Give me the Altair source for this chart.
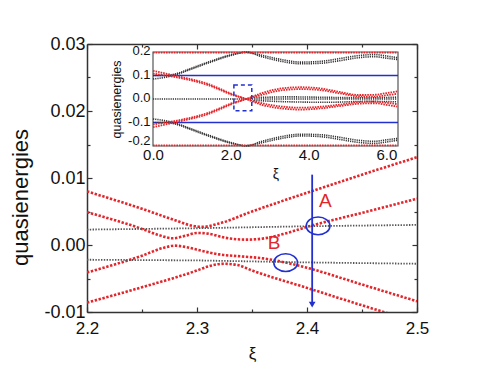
import altair as alt
import pandas as pd

# ---------------- main panel data ----------------
R1_x = [2.20, 2.25, 2.28, 2.295, 2.305, 2.32, 2.35, 2.40, 2.45, 2.50]
R1_y = [0.0080, 0.0054, 0.0037, 0.0029, 0.0027, 0.0032, 0.0050, 0.0078, 0.0105, 0.0131]

R2_x = [2.20, 2.25, 2.265, 2.278, 2.29, 2.30, 2.31, 2.325, 2.345, 2.365, 2.38, 2.40, 2.45, 2.50]
R2_y = [0.0049, 0.0024, 0.0015, 0.0010, 0.0014, 0.0018, 0.0017, 0.0011, 0.0008, 0.0011, 0.0017, 0.0027, 0.0048, 0.0069]

R3_x = [2.20, 2.25, 2.27, 2.28, 2.29, 2.30, 2.32, 2.34, 2.36, 2.38, 2.40, 2.45, 2.50]
R3_y = [-0.0041, -0.0016, -0.0004, -0.0001, -0.0003, -0.0007, -0.0014, -0.0017, -0.0020, -0.0026, -0.0034, -0.0059, -0.0084]

R4_x = [2.20, 2.25, 2.30, 2.31, 2.325, 2.337, 2.35, 2.40, 2.45, 2.50]
R4_y = [-0.0086, -0.0063, -0.0038, -0.0032, -0.0028, -0.0030, -0.0038, -0.0064, -0.0090, -0.0115]

BU_x = [2.20, 2.30, 2.40, 2.50]
BU_y = [0.0023, 0.0025, 0.0028, 0.0030]
BL_x = [2.20, 2.30, 2.40, 2.50]
BL_y = [-0.0022, -0.0023, -0.0026, -0.0028]

ARROW_x = [2.4047]
ARROW_y = [0.0105]
ARROW_y2 = [-0.0090]
ARROWHEAD_y = [-0.0089]

ELL_x = [2.4101, 2.3806]
ELL_y = [0.00285, -0.00264]
LAB_text = ["A", "B"]
LAB_x = [2.4166, 2.3700]
LAB_y = [0.0066, 0.0003]

X_MAJOR = [2.2, 2.3, 2.4, 2.5]
X_MINOR = [2.25, 2.35, 2.45]
Y_MAJOR = [-0.01, 0.0, 0.01, 0.02, 0.03]
Y_MINOR = [-0.005, 0.005, 0.015, 0.025]

# ---------------- inset data ----------------
IX = [0, 0.55, 1.4, 2.1, 2.4, 2.8, 3.3, 3.8, 4.3, 4.8, 5.3, 5.7, 6.0, 6.28]
IRD1 = [0.12, 0.1, 0.065, 0.017, 0.0, -0.025, -0.04, -0.045, -0.04, -0.03, -0.02, -0.018, -0.025, -0.032]
IRD2 = [0.108, 0.094, 0.06, 0.014, 0.0, -0.018, -0.032, -0.037, -0.033, -0.024, -0.013, -0.011, -0.016, -0.022]
IRU1 = [-0.12, -0.1, -0.065, -0.017, 0.0, 0.025, 0.045, 0.05, 0.045, 0.03, 0.017, 0.018, 0.025, 0.032]
IRU2 = [-0.108, -0.094, -0.06, -0.014, 0.0, 0.018, 0.037, 0.042, 0.038, 0.024, 0.011, 0.010, 0.016, 0.022]
IEDGE_x = [0.0, 6.28]
IEDGE_top = [0.197, 0.197]
IEDGE_bot = [-0.197, -0.197]

IBX = [0, 0.3, 0.6, 1.0, 1.5, 2.0, 2.4, 2.8, 3.3, 3.8, 4.3, 4.8, 5.3, 5.7, 6.0, 6.28]
IBU1 = [0.085, 0.092, 0.104, 0.128, 0.158, 0.185, 0.199, 0.186, 0.168, 0.157, 0.160, 0.172, 0.185, 0.189, 0.183, 0.176]
IBU2 = [0.100, 0.100, 0.108, 0.132, 0.162, 0.188, 0.199, 0.180, 0.160, 0.150, 0.152, 0.163, 0.176, 0.180, 0.174, 0.168]
IBL1 = [-0.085, -0.092, -0.104, -0.128, -0.158, -0.185, -0.199, -0.186, -0.168, -0.157, -0.160, -0.172, -0.185, -0.189, -0.183, -0.176]
IBL2 = [-0.100, -0.100, -0.108, -0.132, -0.162, -0.188, -0.199, -0.180, -0.160, -0.150, -0.152, -0.163, -0.176, -0.180, -0.174, -0.168]
IBM_x = [0.0, 6.28]
IBM_y = [0.0, 0.0]
IBM2_x = [2.6, 3.5, 4.5, 5.5, 6.28]
IBM2_y = [0.006, 0.009, 0.007, 0.005, 0.008]
IBM3_y = [-0.006, -0.012, -0.014, -0.010, -0.012]

IBLUE_y = [0.1, -0.1]
IBLUE_x = [0.0]
IBLUE_x2 = [6.3]
IBOX_x = [2.08]
IBOX_x2 = [2.54]
IBOX_y = [-0.05]
IBOX_y2 = [0.06]
IFRAME_x = [0.0]
IFRAME_x2 = [6.3]
IFRAME_y = [-0.2]
IFRAME_y2 = [0.2]
IX_TICKS = [0.0, 2.0, 4.0, 6.0]
IY_TICKS = [-0.2, -0.1, 0.0, 0.1, 0.2]


def curves(items):
    rows = []
    for name, xs, ys in items:
        for x, y in zip(xs, ys):
            rows.append({"curve": name, "x": x, "y": y})
    return pd.DataFrame(rows)


W, H = 330, 268
FONT = "Liberation Sans"
RED = "#e3262b"
BLUE = "#2230d0"
DARK = "#333333"

XS = alt.Scale(domain=[2.2, 2.5], zero=False, nice=False)
YS = alt.Scale(domain=[-0.01, 0.03], zero=False, nice=False)

# inset position inside the plot area (pixel ranges)
IXS = alt.Scale(domain=[0, 6.3], range=[66, 311], zero=False, nice=False)
IYS = alt.Scale(domain=[-0.2, 0.2], range=[102, 8], zero=False, nice=False)


def tick_axis(orient, values, size, offset, domain=False):
    return alt.Axis(orient=orient, values=values, tickSize=size, offset=offset,
                    labels=False, title=None, domain=domain, ticks=True, grid=False,
                    tickColor=DARK, tickWidth=1.2, domainColor=DARK, domainWidth=1.5)


def signed(fmt):
    return f"datum.value < 0 ? '-' + format(-datum.value, '{fmt}') : format(datum.value, '{fmt}')"


x_label_axis = alt.Axis(orient="bottom", values=X_MAJOR, labelExpr=signed(".1f"),
                        labelFont=FONT, labelFontSize=17, labelColor="#111", labelPadding=8,
                        labelFlush=False, labelOverlap=False, tickSize=0,
                        ticks=False, domain=False, grid=False,
                        title="ξ", titleFont=FONT, titleFontSize=17, titleFontWeight="normal",
                        titleColor="#111", titlePadding=9)
y_label_axis = alt.Axis(orient="left", values=Y_MAJOR, labelExpr=signed(".2f"),
                        labelFont=FONT, labelFontSize=18, labelColor="#111", labelPadding=2,
                        labelFlush=False, labelOverlap=False, tickSize=0,
                        ticks=False, domain=False, grid=False,
                        title="quasienergies", titleFont=FONT, titleFontSize=22,
                        titleFontWeight="normal", titleColor="#111", titlePadding=11,
                        titleY=153)

red_df = curves([("R1", R1_x, R1_y), ("R2", R2_x, R2_y), ("R3", R3_x, R3_y), ("R4", R4_x, R4_y)])
black_df = curves([("BU", BU_x, BU_y), ("BL", BL_x, BL_y)])

red_main = alt.Chart(red_df).mark_line(
    color=RED, strokeWidth=2.6, strokeDash=[2.4, 1.6], clip=True, interpolate="monotone"
).encode(
    x=alt.X("x:Q", scale=XS, axis=x_label_axis),
    y=alt.Y("y:Q", scale=YS, axis=y_label_axis),
    detail="curve:N",
)

black_main = alt.Chart(black_df).mark_line(
    color="#555", strokeWidth=1.8, strokeDash=[1.4, 1.4], clip=True
).encode(
    x=alt.X("x:Q", scale=XS, axis=tick_axis("top", X_MAJOR, 5, -H, domain=True)),
    y=alt.Y("y:Q", scale=YS, axis=tick_axis("right", Y_MAJOR, 5, -W, domain=True)),
    detail="curve:N",
)

arrow_df = pd.DataFrame({"x": ARROW_x, "y": ARROW_y, "y2": ARROW_y2})
arrow_line = alt.Chart(arrow_df).mark_rule(color=BLUE, strokeWidth=1.8).encode(
    x=alt.X("x:Q", scale=XS, axis=tick_axis("bottom", X_MAJOR, 5, -H, domain=True)),
    y=alt.Y("y:Q", scale=YS, axis=tick_axis("left", Y_MAJOR, 5, -W, domain=True)),
    y2="y2:Q",
)

head_df = pd.DataFrame({"x": ARROW_x, "y": ARROWHEAD_y})
arrow_head = alt.Chart(head_df).mark_point(
    shape="triangle-down", filled=True, color=BLUE, size=45, opacity=1
).encode(
    x=alt.X("x:Q", scale=XS, axis=None),
    y=alt.Y("y:Q", scale=YS, axis=None),
)

ELLIPSE = "M -1 0 A 1 0.75 0 1 1 1 0 A 1 0.75 0 1 1 -1 0 Z"
ell_df = pd.DataFrame({"x": ELL_x, "y": ELL_y})
ellipses = alt.Chart(ell_df).mark_point(
    shape=ELLIPSE, filled=False, color=BLUE, strokeWidth=1.6, size=560, opacity=1
).encode(
    x=alt.X("x:Q", scale=XS, axis=tick_axis("top", X_MINOR, 3, -H)),
    y=alt.Y("y:Q", scale=YS, axis=tick_axis("right", Y_MINOR, 3, -W)),
)

lab_df = pd.DataFrame({"t": LAB_text, "x": LAB_x, "y": LAB_y})
labels = alt.Chart(lab_df).mark_text(
    color=RED, font=FONT, fontSize=19, align="center", baseline="middle"
).encode(
    x=alt.X("x:Q", scale=XS, axis=tick_axis("bottom", X_MINOR, 3, -H)),
    y=alt.Y("y:Q", scale=YS, axis=tick_axis("left", Y_MINOR, 3, -W)),
    text="t:N",
)

main_group = alt.layer(red_main, black_main, arrow_line, arrow_head, ellipses, labels).resolve_axis(
    x="independent", y="independent"
)

# ---------------- inset layers ----------------
ired_df = curves([("d1", IX, IRD1), ("d2", IX, IRD2), ("u1", IX, IRU1), ("u2", IX, IRU2),
                  ("top", IEDGE_x, IEDGE_top), ("bot", IEDGE_x, IEDGE_bot)])
iblack_df = curves([("u1", IBX, IBU1), ("u2", IBX, IBU2), ("l1", IBX, IBL1), ("l2", IBX, IBL2),
                    ("m", IBM_x, IBM_y), ("m2", IBM2_x, IBM2_y), ("m3", IBM2_x, IBM3_y)])

ix_axis = alt.Axis(orient="bottom", offset=-(H - 102), values=IX_TICKS, labelExpr=signed(".1f"),
                   labelFont=FONT, labelFontSize=15, labelColor="#111", labelPadding=1,
                   labelFlush=False, labelOverlap=False, tickSize=0, ticks=False, domain=False,
                   grid=False,
                   title="ξ", titleFont=FONT, titleFontSize=14, titleFontWeight="normal",
                   titleColor="#111", titlePadding=5)
iy_axis = alt.Axis(orient="left", offset=-66, values=IY_TICKS, labelExpr=signed(".1f"),
                   labelFont=FONT, labelFontSize=13, labelColor="#111", labelPadding=3,
                   labelOffset={"condition": {"test": "datum.value < -0.15", "value": -6},
                                "value": -1.5},
                   labelFlush=False, labelOverlap=False, tickSize=0, ticks=False, domain=False,
                   grid=False,
                   title="quasienergies", titleFont=FONT, titleFontSize=12.5,
                   titleFontWeight="normal", titleColor="#111", titlePadding=4)

iframe_df = pd.DataFrame({"x": IFRAME_x, "x2": IFRAME_x2, "y": IFRAME_y, "y2": IFRAME_y2})
iframe = alt.Chart(iframe_df).mark_rect(fill="white", stroke="#555", strokeWidth=1.2).encode(
    x=alt.X("x:Q", scale=IXS, axis=None), x2="x2:Q",
    y=alt.Y("y:Q", scale=IYS, axis=None), y2="y2:Q",
)

iblue_df = pd.DataFrame({"y": IBLUE_y, "x": IBLUE_x * 2, "x2": IBLUE_x2 * 2})
iblue = alt.Chart(iblue_df).mark_rule(color=BLUE, strokeWidth=1.5).encode(
    x=alt.X("x:Q", scale=IXS, axis=None), x2="x2:Q",
    y=alt.Y("y:Q", scale=IYS, axis=None),
)

iblack = alt.Chart(iblack_df).mark_line(
    color="#333", strokeWidth=1.6, strokeDash=[1.2, 1.0], interpolate="monotone"
).encode(
    x=alt.X("x:Q", scale=IXS, axis=None),
    y=alt.Y("y:Q", scale=IYS, axis=None),
    detail="curve:N",
)

ired = alt.Chart(ired_df).mark_line(
    color=RED, strokeWidth=1.8, strokeDash=[1.6, 1.0], interpolate="monotone"
).encode(
    x=alt.X("x:Q", scale=IXS, axis=ix_axis),
    y=alt.Y("y:Q", scale=IYS, axis=iy_axis),
    detail="curve:N",
)

ibox_df = pd.DataFrame({"x": IBOX_x, "x2": IBOX_x2, "y": IBOX_y, "y2": IBOX_y2})
ibox = alt.Chart(ibox_df).mark_rect(
    fill=None, fillOpacity=0, stroke=BLUE, strokeWidth=1.5, strokeDash=[4, 3]
).encode(
    x=alt.X("x:Q", scale=IXS, axis=None), x2="x2:Q",
    y=alt.Y("y:Q", scale=IYS, axis=None), y2="y2:Q",
)

inset_group = alt.layer(iframe, iblue, iblack, ired, ibox).resolve_axis(
    x="independent", y="independent"
)

chart = alt.layer(main_group, inset_group).resolve_scale(
    x="independent", y="independent"
).properties(
    width=W, height=H,
    padding={"left": 1, "top": 27, "right": 5, "bottom": 5},
    background="white",
).configure_view(
    stroke=None
)

chart.save("out.html", embed_options={"renderer": "svg", "actions": False})
